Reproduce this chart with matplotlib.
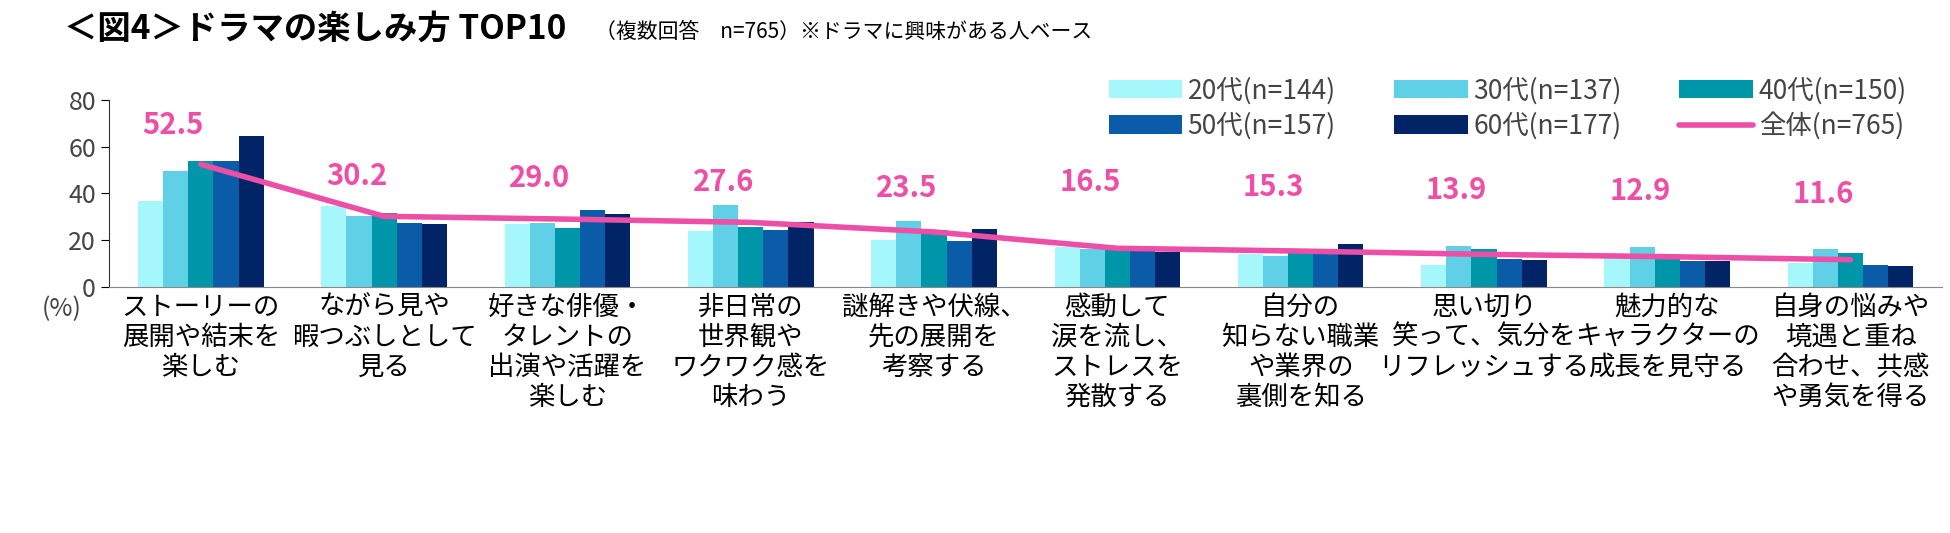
import matplotlib
matplotlib.use("Agg")
import matplotlib.pyplot as plt
import numpy as np

plt.rcParams['font.family'] = ['Noto Sans CJK JP', 'DejaVu Sans']

categories = ["ストーリーの\n展開や結末を\n楽しむ", "ながら見や\n暇つぶしとして\n見る", "好きな俳優・\nタレントの\n出演や活躍を\n楽しむ",
              "非日常の\n世界観や\nワクワク感を\n味わう", "謎解きや伏線、\n先の展開を\n考察する", "感動して\n涙を流し、\nストレスを\n発散する",
              "自分の\n知らない職業\nや業界の\n裏側を知る", "思い切り\n笑って、気分を\nリフレッシュする", "魅力的な\nキャラクターの\n成長を見守る",
              "自身の悩みや\n境遇と重ね\n合わせ、共感\nや勇気を得る"]
series_names = ["20代(n=144)", "30代(n=137)", "40代(n=150)", "50代(n=157)", "60代(n=177)"]
v20 = [36.7, 34.5, 26.7, 24.0, 20.0, 17.0, 14.0, 9.5, 13.0, 10.0]
v30 = [49.5, 30.4, 27.5, 35.0, 28.2, 16.0, 13.0, 17.5, 17.0, 16.0]
v40 = [53.8, 31.7, 25.0, 25.8, 24.4, 16.0, 15.0, 16.0, 12.0, 14.5]
v50 = [54.0, 27.2, 32.9, 24.5, 19.7, 16.0, 15.0, 12.0, 11.0, 9.5]
v60 = [64.7, 27.0, 31.0, 27.9, 24.8, 15.0, 18.5, 11.5, 11.0, 9.0]
total = [52.5, 30.2, 29.0, 27.6, 23.5, 16.5, 15.3, 13.9, 12.9, 11.6]
colors = ["#a6f7fb", "#5fd0e6", "#0096aa", "#0a5ca8", "#002466"]
pink = "#ee4fa6"

fig = plt.figure(figsize=(19.5, 5.33), dpi=100)
ax = fig.add_axes([0.056, 0.462, 0.94, 0.35])
x = np.arange(len(categories))
w = 0.137
for i, (vals, name, c) in enumerate(zip([v20, v30, v40, v50, v60], series_names, colors)):
    ax.bar(x + (i - 2) * w, vals, w, color=c, label=name)
ax.plot(x, total, color=pink, lw=4, label="全体(n=765)", solid_capstyle='round')
label_y = [63, 41, 40, 38.5, 36, 38.5, 36.5, 35, 34.5, 33.5]
for xi, t, ly in zip(x, total, label_y):
    ax.text(xi - 0.15, ly, f"{t:.1f}", color=pink, fontsize=21, fontweight='bold', ha='center', va='bottom')

ax.set_ylim(0, 80)
ax.set_xlim(-0.5, len(categories) - 0.5)
ax.set_yticks([0, 20, 40, 60, 80])
ax.tick_params(axis='y', labelsize=18, labelcolor='#444444', length=6)
ax.set_xticks(x)
ax.set_xticklabels(categories, fontsize=19, linespacing=1.15, va='top')
ax.tick_params(axis='x', length=0, pad=5)
for s in ["top", "right"]:
    ax.spines[s].set_visible(False)
ax.spines["left"].set_color('#333333')
ax.spines["bottom"].set_color('#888888')
ax.text(-0.026, -0.05, "(%)", transform=ax.transAxes, fontsize=18, color='#444444', va='top', ha='center')

h, l = ax.get_legend_handles_labels()
order = [1, 4, 2, 5, 3, 0]
fig.legend([h[i] for i in order], [l[i] for i in order], ncol=3, loc='upper right',
           bbox_to_anchor=(0.99, 0.9), fontsize=19, frameon=False, handlelength=2.8,
           columnspacing=2.2, handletextpad=0.2, labelspacing=0.3, labelcolor='#444444')

fig.text(0.033, 0.945, "＜図4＞ドラマの楽しみ方 TOP10", fontsize=24, fontweight='bold', va='center')
fig.text(0.305, 0.94, "（複数回答　n=765）※ドラマに興味がある人ベース", fontsize=15, va='center')

fig.savefig("out.png", dpi=100)
